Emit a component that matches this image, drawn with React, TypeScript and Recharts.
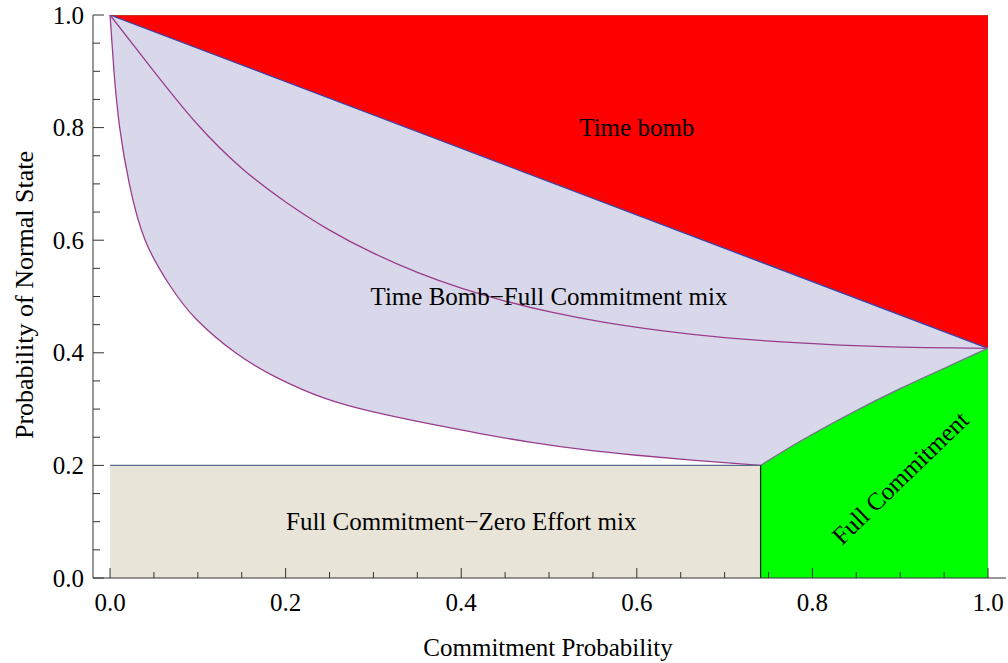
import React from 'react';
import { ComposedChart, Area, Line, XAxis, YAxis, ReferenceDot, Label } from 'recharts';

const FONT = "'Liberation Serif', 'Times New Roman', Times, serif";
const FS = 25;

// tick positions (major every 0.2, minor every 0.05)
const xTicks = [0, 0.05, 0.1, 0.15, 0.2, 0.25, 0.3, 0.35, 0.4, 0.45, 0.5, 0.55, 0.6, 0.65, 0.7, 0.75, 0.8, 0.85, 0.9, 0.95, 1.0];
const yTicks = [0, 0.05, 0.1, 0.15, 0.2, 0.25, 0.3, 0.35, 0.4, 0.45, 0.5, 0.55, 0.6, 0.65, 0.7, 0.75, 0.8, 0.85, 0.9, 0.95, 1.0];
const majorTicks = [0, 0.2, 0.4, 0.6, 0.8, 1.0];
const majorTickLabels = ['0.0', '0.2', '0.4', '0.6', '0.8', '1.0'];

// region boundaries (commitment probability x, probability of normal state y)
const topEdge = [{ x: 0, y: 1 }, { x: 1, y: 1 }];
const timeBombLine = [{ x: 0, y: 1 }, { x: 1, y: 0.408 }];
const mixSpan = [{ x: 0, y: 0.2 }, { x: 1, y: 0.2 }];
const lowerCurve = [
  { x: 0, y: 1 }, { x: 0.0045, y: 0.9 }, { x: 0.011, y: 0.8 }, { x: 0.022, y: 0.7 },
  { x: 0.04, y: 0.6 }, { x: 0.068, y: 0.52 }, { x: 0.098, y: 0.46 }, { x: 0.143, y: 0.4 },
  { x: 0.19, y: 0.356 }, { x: 0.245, y: 0.319 }, { x: 0.3, y: 0.295 }, { x: 0.36, y: 0.275 },
  { x: 0.42, y: 0.257 }, { x: 0.48, y: 0.241 }, { x: 0.54, y: 0.228 }, { x: 0.6, y: 0.218 },
  { x: 0.67, y: 0.2085 }, { x: 0.741, y: 0.2 },
];
const middleCurve = [
  { x: 0, y: 1 }, { x: 0.05, y: 0.9 }, { x: 0.1, y: 0.805 }, { x: 0.15, y: 0.728 },
  { x: 0.2, y: 0.668 }, { x: 0.25, y: 0.618 }, { x: 0.3, y: 0.577 }, { x: 0.35, y: 0.543 },
  { x: 0.4, y: 0.515 }, { x: 0.45, y: 0.492 }, { x: 0.5, y: 0.473 }, { x: 0.56, y: 0.455 },
  { x: 0.63, y: 0.439 }, { x: 0.7, y: 0.427 }, { x: 0.78, y: 0.418 }, { x: 0.88, y: 0.411 },
  { x: 1, y: 0.408 },
];
const fullCommitmentCurve = [
  { x: 0.741, y: 0.2 }, { x: 0.787, y: 0.2435 }, { x: 0.844, y: 0.2925 }, { x: 0.901, y: 0.337 },
  { x: 0.958, y: 0.378 }, { x: 1, y: 0.408 },
];
const zeroEffortTop = [{ x: 0, y: 0.2 }, { x: 0.741, y: 0.2 }];
const zeroEffortEdge = [{ x: 0.741, y: 0 }, { x: 0.741, y: 0.2 }];

const regionNames = ['Time bomb', 'Time Bomb\u2212Full Commitment mix', 'Full Commitment\u2212Zero Effort mix', 'Full Commitment'];
const regionX = [0.6, 0.5, 0.4, 0.9];
const regionY = [0.8, 0.5, 0.1, 0.178];
const regionAngle = [0, 0, 0, -44];

const isMajor = (v: number) => Math.abs(v * 5 - Math.round(v * 5)) < 1e-6;
const labelFor = (v: number) => {
  const i = majorTicks.findIndex((m) => Math.abs(m - v) < 1e-6);
  return i >= 0 ? majorTickLabels[i] : '';
};

const AXIS = '#333333';

const XTick = (props: any) => {
  const { x, y, payload } = props;
  const v = payload.value;
  const major = isMajor(v);
  return (
    <g>
      <line x1={x} x2={x} y1={y} y2={y - (major ? 10 : 6)} stroke={AXIS} strokeWidth={1} />
      {major && (
        <text x={x} y={y + 24} textAnchor="middle" dominantBaseline="central" fontFamily={FONT} fontSize={FS} fill="#000">
          {labelFor(v)}
        </text>
      )}
    </g>
  );
};

const YTick = (props: any) => {
  const { x, y, payload } = props;
  const v = payload.value;
  const major = isMajor(v);
  return (
    <g>
      <line x1={x} x2={x + (major ? 11 : 7)} y1={y} y2={y} stroke={AXIS} strokeWidth={1} />
      {major && (
        <text x={x - 9} y={y} textAnchor="end" dominantBaseline="central" fontFamily={FONT} fontSize={FS} fill="#000">
          {labelFor(v)}
        </text>
      )}
    </g>
  );
};

const makeRegionText = (i: number) => (p: any) => {
  const { cx, cy } = p;
  return (
    <text
      x={cx}
      y={cy}
      textAnchor="middle"
      dominantBaseline="central"
      fontFamily={FONT}
      fontSize={FS}
      fill="#000"
      transform={regionAngle[i] ? `rotate(${regionAngle[i]} ${cx} ${cy})` : undefined}
    >
      {regionNames[i]}
    </text>
  );
};

const range = (lo: number | null, hi: number | null) => (d: any) => [lo === null ? d.y : lo, hi === null ? d.y : hi];

const LAV = '#D9D8EA';
const PURPLE = '#9A3C8C';

export default function App() {
  return (
    <div style={{ position: 'absolute', left: 0, top: 0, width: 1008, height: 663, background: '#fff' }}>
      <ComposedChart width={1008} height={663} margin={{ top: 15, right: 2, bottom: 0, left: 0 }}>
        <XAxis
          type="number"
          dataKey="x"
          domain={[-0.0194, 1.0205]}
          allowDataOverflow
          ticks={xTicks}
          interval={0}
          tickSize={0}
          tickMargin={0}
          tick={<XTick />}
          axisLine={{ stroke: AXIS, strokeWidth: 1 }}
          tickLine={false}
          height={85}
        >
          <Label
            content={() => (
              <text x={548} y={647} textAnchor="middle" dominantBaseline="central" fontFamily={FONT} fontSize={FS} fill="#000">
                Commitment Probability
              </text>
            )}
          />
        </XAxis>
        <YAxis
          type="number"
          dataKey="y"
          domain={[0, 1]}
          allowDataOverflow
          ticks={yTicks}
          interval={0}
          tickSize={0}
          tickMargin={0}
          tick={<YTick />}
          axisLine={{ stroke: AXIS, strokeWidth: 1 }}
          tickLine={false}
          width={93}
        >
          <Label
            content={() => (
              <text x={24} y={295} transform="rotate(-90 24 295)" textAnchor="middle" dominantBaseline="central" fontFamily={FONT} fontSize={26} fill="#000">
                Probability of Normal State
              </text>
            )}
          />
        </YAxis>

        {/* lavender mix region: full band above 0.2, then the white gap under the lower curve */}
        <Area data={mixSpan} dataKey={range(null, 1)} type="linear" fill={LAV} fillOpacity={1} stroke="none" isAnimationActive={false} />
        <Area data={lowerCurve} dataKey={range(0.2, null)} type="natural" fill="#FFFFFF" fillOpacity={1} stroke="none" isAnimationActive={false} />
        <Area data={timeBombLine} dataKey={range(null, 1)} type="linear" fill="#FF0000" fillOpacity={1} stroke="none" isAnimationActive={false} />
        <Area data={zeroEffortTop} dataKey={range(0, null)} type="linear" fill="#E8E5D8" fillOpacity={1} stroke="none" isAnimationActive={false} />
        <Area data={fullCommitmentCurve} dataKey={range(0, null)} type="natural" fill="#00FF00" fillOpacity={1} stroke="none" isAnimationActive={false} />

        <Line data={topEdge} dataKey="y" type="linear" stroke="#8B6A3E" strokeWidth={1.2} dot={false} activeDot={false} isAnimationActive={false} />
        <Line data={timeBombLine} dataKey="y" type="linear" stroke="#3A44A8" strokeWidth={1.3} dot={false} activeDot={false} isAnimationActive={false} />
        <Line data={middleCurve} dataKey="y" type="natural" stroke={PURPLE} strokeWidth={1.3} dot={false} activeDot={false} isAnimationActive={false} />
        <Line data={lowerCurve} dataKey="y" type="natural" stroke={PURPLE} strokeWidth={1.3} dot={false} activeDot={false} isAnimationActive={false} />
        <Line data={zeroEffortTop} dataKey="y" type="linear" stroke="#5A6C8C" strokeWidth={1.3} dot={false} activeDot={false} isAnimationActive={false} />
        <Line data={fullCommitmentCurve} dataKey="y" type="natural" stroke="#6E7F80" strokeWidth={1.5} dot={false} activeDot={false} isAnimationActive={false} />
        <Line data={zeroEffortEdge} dataKey="y" type="linear" stroke="#222222" strokeWidth={1.3} dot={false} activeDot={false} isAnimationActive={false} />

        {regionNames.map((n, i) => (
          <ReferenceDot key={n} x={regionX[i]} y={regionY[i]} r={0} ifOverflow="visible" shape={makeRegionText(i)} />
        ))}
      </ComposedChart>
    </div>
  );
}
